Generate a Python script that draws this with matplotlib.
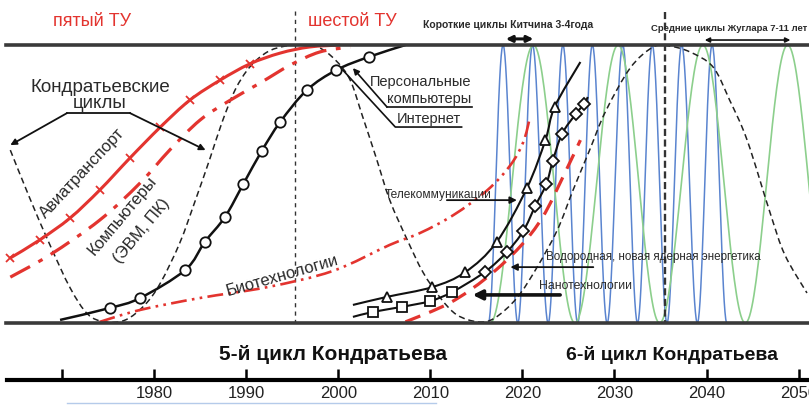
import numpy as np
import matplotlib
matplotlib.use("Agg")
import matplotlib.pyplot as plt
from matplotlib.path import Path
from matplotlib.patches import PathPatch

plt.rcParams['font.family'] = ['Liberation Sans', 'DejaVu Sans']

# ---------------- data (x = year, y = saturation level, %) ----------------
kondr_x = [1964.4, 1966.5, 1968.7, 1970.9, 1972.8, 1974.7, 1976.9, 1979.0, 1980.7, 1982.8,
           1984.5, 1986.1, 1987.4, 1988.8, 1990.4, 1992.3, 1994.2, 1995.9, 1997.8, 1999.7,
           2001.3, 2002.6, 2004.1, 2005.6, 2007.5, 2009.2, 2011.1, 2012.9, 2015.2, 2017.0,
           2019.4, 2021.6, 2023.8, 2025.5, 2027.3, 2029.0, 2031.7, 2034.2, 2036.0, 2038.2,
           2040.7, 2042.5, 2044.4, 2046.9, 2048.5, 2050.9]
kondr_y = [62.2, 45.0, 28.1, 12.6, 3.2, 0.4, 1.1, 6.5, 14.4, 28.8,
           44.2, 59.4, 72.3, 83.8, 92.1, 97.5, 99.6, 100.0, 99.3, 94.6,
           87.4, 74.8, 59.7, 44.2, 29.9, 18.3, 9.0, 2.9, 0.4, 1.8,
           9.0, 20.1, 33.5, 47.8, 62.2, 75.9, 91.7, 99.3, 99.6, 97.5,
           92.1, 80.2, 65.8, 39.6, 24.5, 10.8]

avia_x = [1964.4, 1967.6, 1970.9, 1974.1, 1977.4, 1980.7, 1983.9, 1987.2, 1990.4, 1993.7, 1996.9, 2000.2]
avia_y = [23.4, 29.9, 37.8, 47.8, 59.4, 70.5, 80.2, 87.4, 93.2, 97.1, 99.3, 100.0]

evm_x = [1964.4, 1968.7, 1974.1, 1978.5, 1981.7, 1985.0, 1988.3, 1991.5, 1994.8, 1998.0, 2001.3]
evm_y = [16.5, 24.5, 37.0, 50.4, 62.2, 73.0, 80.2, 86.3, 92.8, 97.5, 99.3]

bio_x = [1974.1, 1978.5, 1985.0, 1992.3, 1999.4, 2005.6, 2008.9, 2012.5, 2016.2, 2018.7, 2020.1, 2020.8]
bio_y = [0.4, 4.7, 9.0, 12.9, 18.7, 28.1, 32.4, 38.8, 47.8, 56.8, 65.1, 73.7]

reddash_x = [2007.3, 2012.1, 2016.2, 2019.7, 2022.2, 2024.4, 2026.3]
reddash_y = [0.4, 7.2, 16.5, 27.3, 38.1, 52.5, 65.8]

pc_x = [1969.8, 1975.2, 1978.5, 1983.4, 1985.5, 1987.7, 1989.7, 1991.7, 1993.7, 1996.6, 1999.8, 2003.3, 2007.3]
pc_y = [1.1, 5.4, 9.0, 19.1, 29.1, 38.1, 50.0, 61.9, 72.3, 83.8, 91.0, 95.7, 100.0]

tele_x = [2001.6, 2005.3, 2010.2, 2013.8, 2017.2, 2020.5, 2022.5, 2023.5, 2026.3]
tele_y = [6.5, 9.4, 12.9, 18.3, 29.1, 48.6, 65.8, 77.7, 93.9]

nano_x = [2001.6, 2003.8, 2006.9, 2010.0, 2012.4, 2015.9, 2018.3, 2020.1, 2021.4, 2022.6,
          2023.3, 2024.3, 2025.8, 2026.7, 2027.1]
nano_y = [2.2, 4.0, 5.8, 7.9, 11.2, 18.3, 25.5, 33.1, 42.1, 50.0,
          58.3, 68.0, 75.2, 78.8, 81.3]

kitchin_troughs = [2016.3, 2019.5, 2022.8, 2026.0, 2029.2, 2032.5, 2035.7, 2039.0, 2042.2]
kitchin_peaks = [2017.9, 2021.1, 2024.4, 2027.6, 2030.9, 2034.1, 2037.3, 2040.6]
juglar_troughs = [2016.5, 2025.7, 2034.9, 2044.2, 2053.4]
juglar_peaks = [2021.2, 2030.4, 2039.6, 2048.8]

tick_years = [1970, 1980, 1990, 2000, 2010, 2020, 2030, 2040, 2050]
tick_labels = ['', '1980', '1990', '2000', '2010', '2020', '2030', '2040', '2050']
long_ticks = [1980, 2020]

X0, X1 = 1963.28, 2051.12
RED = '#e3342f'
TXT = '#2a2a2a'


def smooth_path(xs, ys):
    pts = np.column_stack([xs, ys]).astype(float)
    verts = [pts[0]]
    codes = [Path.MOVETO]
    n = len(pts)
    for i in range(n - 1):
        p0 = pts[i - 1] if i > 0 else pts[i]
        p1 = pts[i]
        p2 = pts[i + 1]
        p3 = pts[i + 2] if i + 2 < n else pts[i + 1]
        verts += [p1 + (p2 - p0) / 6.0, p2 - (p3 - p1) / 6.0, p2]
        codes += [Path.CURVE4] * 3
    return Path(verts, codes)


def curve(ax, xs, ys, **kw):
    ax.add_patch(PathPatch(smooth_path(xs, ys), fill=False, capstyle='butt', **kw))


def wave(ax, troughs, peaks, **kw):
    ext = sorted([(t, 0.0) for t in troughs] + [(p, 100.0) for p in peaks])
    xs, ys = [], []
    for (xa, ya), (xb, yb) in zip(ext[:-1], ext[1:]):
        t = np.linspace(0, 1, 40)
        xs.append(xa + t * (xb - xa))
        ys.append(ya + (yb - ya) * (1 - np.cos(np.pi * t)) / 2)
    ax.plot(np.concatenate(xs), np.concatenate(ys), **kw)


fig = plt.figure(figsize=(8.09, 4.05), dpi=100)
ax = fig.add_axes([0, 0, 1, 1])
ax.set_xlim(X0, X1)
ax.set_ylim(-29.5, 116.2)
ax.axis('off')

# cycles
wave(ax, kitchin_troughs, kitchin_peaks, color='#5a84cf', lw=1.1, zorder=1)
wave(ax, juglar_troughs, juglar_peaks, color='#8ccf8c', lw=1.2, zorder=1)

# frame lines
ax.plot([1963.9, X1], [100, 100], color='#3a3a3a', lw=2.6, zorder=6)
ax.plot([1963.9, X1], [0, 0], color='#3a3a3a', lw=2.6, zorder=6)
ax.plot([1995.3, 1995.3], [112.2, 0], color='#333', lw=1.0, ls=(0, (3, 3)), zorder=2)
ax.plot([2035.5, 2035.5], [112.0, 0], color='#333', lw=1.7, ls=(0, (3, 1.5)), zorder=2)

# Kondratiev wave
curve(ax, kondr_x, kondr_y, edgecolor='#222', lw=1.1, ls=(0, (4, 2.5)), zorder=2)

# red technology curves
curve(ax, avia_x, avia_y, edgecolor=RED, lw=2.2, zorder=3)
ax.plot(avia_x[:-3], avia_y[:-3], ls='none', marker='x', ms=6, mew=1.3, color=RED, zorder=3)
curve(ax, evm_x, evm_y, edgecolor=RED, lw=2.3, ls=(0, (7, 3, 1.5, 3)), zorder=3)
curve(ax, bio_x, bio_y, edgecolor=RED, lw=1.9, ls=(0, (6, 2, 1, 2, 1, 2)), zorder=3)
curve(ax, reddash_x, reddash_y, edgecolor=RED, lw=2.3, ls=(0, (5, 3)), zorder=3)

# black technology curves
curve(ax, pc_x, pc_y, edgecolor='#111', lw=1.8, zorder=4)
ax.plot(pc_x[1:-1], pc_y[1:-1], ls='none', marker='o', ms=7.5, mfc='white', mec='#111', mew=1.3, zorder=5)
curve(ax, tele_x, tele_y, edgecolor='#111', lw=1.5, zorder=4)
ax.plot(tele_x[1:-1], tele_y[1:-1], ls='none', marker='^', ms=7.5, mfc='white', mec='#111', mew=1.3, zorder=5)
curve(ax, nano_x, nano_y, edgecolor='#111', lw=1.5, zorder=4)
ax.plot(nano_x[1:5], nano_y[1:5], ls='none', marker='s', ms=7, mfc='white', mec='#111', mew=1.3, zorder=5)
ax.plot(nano_x[5:-1], nano_y[5:-1], ls='none', marker='D', ms=6, mfc='white', mec='#111', mew=1.3, zorder=5)

# labels and arrows
def arrow(p_from, p_to, lw=1.2, ms=10, style='-|>'):
    ax.annotate('', xy=p_to, xytext=p_from,
                arrowprops=dict(arrowstyle=style, lw=lw, color='#111', mutation_scale=ms,
                                shrinkA=0, shrinkB=0), zorder=7)

ax.text(1973.27, 108.3, 'пятый ТУ', color=RED, fontsize=13, ha='center', va='center')
ax.text(2001.5, 108.3, 'шестой ТУ', color=RED, fontsize=13, ha='center', va='center')
ax.text(2018.4, 107.2, 'Короткие циклы Китчина 3-4года', color=TXT, fontsize=7.5,
        fontweight='bold', ha='center', va='center')
ax.text(2034.0, 105.8, 'Средние циклы Жуглара 7-11 лет', color=TXT, fontsize=6.8,
        fontweight='bold', ha='left', va='center')
arrow((2018.2, 102.2), (2021.2, 102.2), lw=2.2, ms=9, style='<|-|>')
arrow((2039.8, 101.8), (2049.1, 101.8), lw=1.2, ms=7, style='<|-|>')

ax.text(1974.2, 84.9, 'Кондратьевские', color=TXT, fontsize=13.5, ha='center', va='center')
ax.text(1974.1, 78.8, 'циклы', color=TXT, fontsize=13.5, ha='center', va='center')
ax.plot([1970.55, 1977.4], [75.5, 75.5], color='#111', lw=1.3)
arrow((1970.55, 75.5), (1964.4, 64.0), lw=1.3, ms=9)
arrow((1977.4, 75.5), (1985.6, 62.2), lw=1.3, ms=9)

ax.text(1972.2, 54.0, 'Авиатранспорт', color=TXT, fontsize=12, rotation=47,
        ha='center', va='center', rotation_mode='anchor')
ax.text(1976.6, 38.8, 'Компьютеры', color=TXT, fontsize=12, rotation=50,
        ha='center', va='center', rotation_mode='anchor')
ax.text(1978.7, 33.1, '(ЭВМ, ПК)', color=TXT, fontsize=12, rotation=50,
        ha='center', va='center', rotation_mode='anchor')
ax.text(1993.9, 16.9, 'Биотехнологии', color=TXT, fontsize=12, rotation=16,
        ha='center', va='center', rotation_mode='anchor')

ax.text(2009.0, 86.7, 'Персональные', color=TXT, fontsize=10.5, ha='center', va='center')
ax.text(2009.9, 80.6, 'компьютеры', color=TXT, fontsize=10.5, ha='center', va='center')
ax.text(2009.8, 73.4, 'Интернет', color=TXT, fontsize=10.5, ha='center', va='center')
ax.plot([2014.5, 2005.3], [77.7, 77.7], color='#111', lw=1.2)
arrow((2005.3, 77.7), (2001.6, 91.7), lw=1.2, ms=9)
ax.plot([2013.4, 2006.2, 2000.5], [70.5, 70.5, 91.0], color='#111', lw=1.2)

ax.text(2010.9, 46.0, 'Телекоммуникации', color=TXT, fontsize=8.6, ha='center', va='center')
arrow((2011.8, 44.2), (2019.4, 44.2), lw=1.3, ms=10)
ax.text(2034.2, 23.7, 'Водородная, новая ядерная энергетика', color=TXT, fontsize=8.4,
        ha='center', va='center')
arrow((2027.7, 20.1), (2018.7, 20.1), lw=1.3, ms=10)
ax.text(2026.9, 13.3, 'Нанотехнологии', color=TXT, fontsize=8.8, ha='center', va='center')
arrow((2024.1, 10.1), (2014.6, 10.1), lw=2.6, ms=14)

ax.text(1999.4, -11.5, '5-й цикл Кондратьева', color='#111', fontsize=15,
        fontweight='bold', ha='center', va='center')
ax.text(2036.2, -11.5, '6-й цикл Кондратьева', color='#111', fontsize=14,
        fontweight='bold', ha='center', va='center')
ax.plot([1970.6, 2010.6], [-28.8, -28.8], color='#b5cbea', lw=1.0)

# timeline axis
axt = fig.add_axes([0, (405 - 380) / 405, 1, 0.1])
axt.set_xlim(X0, X1)
axt.patch.set_alpha(0)
for s in ['top', 'left', 'right']:
    axt.spines[s].set_visible(False)
axt.spines['bottom'].set_linewidth(3)
axt.spines['bottom'].set_bounds(1964.0, X1)
axt.set_yticks([])
axt.set_xticks(tick_years)
axt.set_xticklabels(tick_labels, fontsize=12, color='#222')
axt.set_xticks(long_ticks, minor=True)
axt.tick_params(axis='x', which='major', direction='in', length=8, width=1.8, pad=4)
axt.tick_params(axis='x', which='minor', direction='in', length=18, width=1.8)

fig.savefig('out.png', dpi=100)
